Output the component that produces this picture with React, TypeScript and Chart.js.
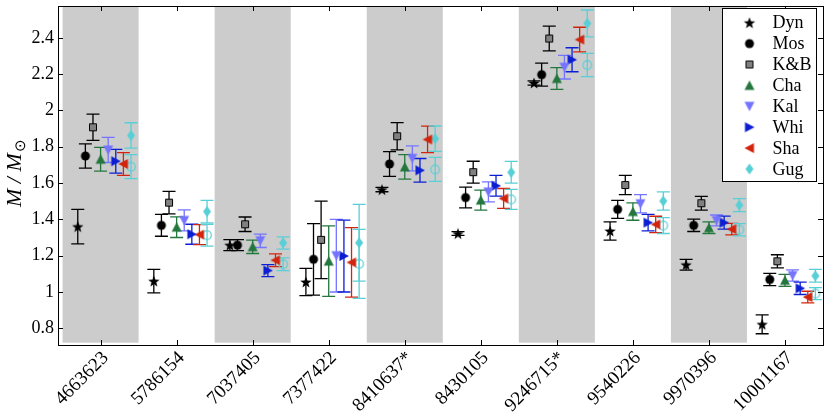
import { useEffect, useRef } from "react";
import { Chart, registerables } from "chart.js";

Chart.register(...registerables);

const SERIF = "'Liberation Serif', 'Times New Roman', serif";

const stars = ["4663623", "5786154", "7037405", "7377422", "8410637*", "8430105", "9246715*", "9540226", "9970396", "10001167"];
const seriesNames = ["Dyn", "Mos", "K&B", "Cha", "Kal", "Whi", "Sha", "Gug", ""];
const offsets = [-0.3, -0.2, -0.1, 0, 0.1, 0.2, 0.3, 0.4, 0.4];

const dyn = [1.36, 1.06, 1.258, 1.055, 1.564, 1.322, 2.151, 1.336, 1.15, 0.822];
const dynErr = [0.095, 0.065, 0.03, 0.075, 0.012, 0.01, 0.012, 0.05, 0.03, 0.052];
const mos = [1.749, 1.367, 1.258, 1.18, 1.705, 1.52, 2.197, 1.455, 1.367, 1.069];
const mosErr = [0.067, 0.06, 0.03, 0.197, 0.068, 0.057, 0.063, 0.05, 0.034, 0.034];
const kb = [1.907, 1.492, 1.373, 1.287, 1.858, 1.66, 2.396, 1.589, 1.489, 1.169];
const kbErr = [0.072, 0.062, 0.04, 0.213, 0.075, 0.06, 0.068, 0.053, 0.038, 0.036];
const cha = [1.731, 1.357, 1.249, 1.17, 1.689, 1.506, 2.176, 1.443, 1.354, 1.064];
const chaErr = [0.065, 0.057, 0.037, 0.194, 0.067, 0.055, 0.06, 0.048, 0.032, 0.033];
const kal = [1.782, 1.394, 1.282, 1.2, 1.736, 1.551, 2.238, 1.486, 1.394, 1.091];
const kalErr = [0.069, 0.058, 0.037, 0.2, 0.069, 0.055, 0.065, 0.05, 0.03, 0.031];
const whi = [1.72, 1.318, 1.118, 1.198, 1.67, 1.585, 2.279, 1.382, 1.382, 1.02];
const whiErr = [0.065, 0.055, 0.033, 0.198, 0.065, 0.057, 0.066, 0.045, 0.036, 0.034];
const sha = [1.705, 1.316, 1.175, 1.163, 1.84, 1.515, 2.39, 1.372, 1.346, 0.972];
const shaErr = [0.063, 0.055, 0.035, 0.191, 0.073, 0.055, 0.068, 0.045, 0.032, 0.032];
const gug = [1.862, 1.443, 1.27, 1.271, 1.844, 1.659, 2.479, 1.501, 1.478, 1.089];
const gugErr = [0.07, 0.062, 0.034, 0.211, 0.07, 0.06, 0.074, 0.05, 0.036, 0.035];
const gugOpen = [1.69, 1.313, 1.153, 1.155, 1.675, 1.51, 2.25, 1.366, 1.343, 0.991];
const gugOpenErr = [0.066, 0.06, 0.035, 0.19, 0.066, 0.055, 0.064, 0.044, 0.034, 0.033];

const yTicks = [0.8, 1, 1.2, 1.4, 1.6, 1.8, 2, 2.2, 2.4];
const yTickLabels = ["0.8", "1", "1.2", "1.4", "1.6", "1.8", "2", "2.2", "2.4"];
const yTitleMain = "M / M";
const yTitleSub = "\u2299";

const GREEN = "#23763c";
const KAL = "#7474ff";
const WHI = "#0c1ed2";
const SHA = "#d2240c";
const GUG = "#58cfd6";

const seriesValues = [dyn, mos, kb, cha, kal, whi, sha, gug, gugOpen];
const seriesErrs = [dynErr, mosErr, kbErr, chaErr, kalErr, whiErr, shaErr, gugErr, gugOpenErr];
const shapes = ["star", "circle", "square", "up", "down", "right", "left", "diamond", "ring"];
const fills = ["#000", "#000", "#808080", GREEN, KAL, WHI, SHA, GUG, GUG];
const errColors = ["#000", "#000", "#000", GREEN, KAL, WHI, SHA, GUG, GUG];

function makeMarker(shape: string, fill: string): HTMLCanvasElement {
  const c = document.createElement("canvas");
  c.width = 16;
  c.height = 16;
  const g = c.getContext("2d")!;
  g.translate(8, 8);
  g.fillStyle = fill;
  g.beginPath();
  const poly = (pts: number[][]) => {
    pts.forEach(([px, py], i) => (i ? g.lineTo(px, py) : g.moveTo(px, py)));
    g.closePath();
  };
  if (shape === "star") {
    const pts: number[][] = [];
    for (let k = 0; k < 10; k++) {
      const a = -Math.PI / 2 + (k * Math.PI) / 5;
      const r = k % 2 ? 2.5 : 6;
      pts.push([Math.cos(a) * r, Math.sin(a) * r + 0.6]);
    }
    poly(pts);
    g.fill();
  } else if (shape === "circle") {
    g.arc(0, 0, 4.5, 0, Math.PI * 2);
    g.fill();
  } else if (shape === "square") {
    g.rect(-3.5, -3.5, 7, 7);
    g.fill();
    g.strokeStyle = "#000";
    g.lineWidth = 1;
    g.stroke();
  } else if (shape === "up") {
    poly([[0, -5], [5, 4.5], [-5, 4.5]]);
    g.fill();
  } else if (shape === "down") {
    poly([[0, 5], [5, -4.5], [-5, -4.5]]);
    g.fill();
  } else if (shape === "right") {
    poly([[5, 0], [-4.5, -5], [-4.5, 5]]);
    g.fill();
  } else if (shape === "left") {
    poly([[-5, 0], [4.5, -5], [4.5, 5]]);
    g.fill();
  } else if (shape === "diamond") {
    poly([[0, -5.5], [4, 0], [0, 5.5], [-4, 0]]);
    g.fill();
  } else {
    g.arc(0, 0, 4.3, 0, Math.PI * 2);
    g.strokeStyle = fill;
    g.lineWidth = 1.2;
    g.stroke();
  }
  return c;
}

export default function App() {
  const chartRef = useRef<HTMLCanvasElement>(null);

  useEffect(() => {
    if (!chartRef.current) return;
    const markers = shapes.map((s, k) => makeMarker(s, fills[k]));

    const datasets = seriesValues.map((vals, k) => ({
      label: seriesNames[k],
      data: vals.map((v, i) => ({ x: i + offsets[k], y: v })),
      pointStyle: markers[k],
      pointRadius: 5,
      pointHoverRadius: 5,
      showLine: false,
    }));

    // grey bands behind every other star
    const bands = {
      id: "bands",
      beforeDatasetsDraw(chart: any) {
        const { ctx, scales, chartArea } = chart;
        ctx.save();
        ctx.fillStyle = "#cccccc";
        stars.forEach((_, i) => {
          if (i % 2) return;
          const x0 = scales.x.getPixelForValue(i - 0.5);
          const x1 = scales.x.getPixelForValue(i + 0.5);
          const yb = scales.y.getPixelForValue(0.721);
          ctx.fillRect(x0, chartArea.top + 1, x1 - x0, yb - chartArea.top - 1);
        });
        ctx.restore();
      },
    };

    const errorBars = {
      id: "errorBars",
      beforeDatasetsDraw(chart: any) {
        const { ctx, scales } = chart;
        ctx.save();
        ctx.lineWidth = 1.3;
        seriesValues.forEach((vals, k) => {
          ctx.strokeStyle = errColors[k];
          vals.forEach((v, i) => {
            const px = scales.x.getPixelForValue(i + offsets[k]);
            const t = scales.y.getPixelForValue(v + seriesErrs[k][i]);
            const b = scales.y.getPixelForValue(v - seriesErrs[k][i]);
            ctx.beginPath();
            ctx.moveTo(px, t);
            ctx.lineTo(px, b);
            ctx.moveTo(px - 6.5, t);
            ctx.lineTo(px + 6.5, t);
            ctx.moveTo(px - 6.5, b);
            ctx.lineTo(px + 6.5, b);
            ctx.stroke();
          });
        });
        ctx.restore();
      },
    };

    const frame = {
      id: "frame",
      afterDraw(chart: any) {
        const { ctx, scales, chartArea: a } = chart;
        ctx.save();
        ctx.strokeStyle = "#000";
        ctx.lineWidth = 1;
        ctx.beginPath();
        yTicks.forEach((v) => {
          const py = Math.round(scales.y.getPixelForValue(v)) + 0.5;
          ctx.moveTo(a.left, py);
          ctx.lineTo(a.left + 5, py);
          ctx.moveTo(a.right, py);
          ctx.lineTo(a.right - 5, py);
        });
        stars.forEach((_, i) => {
          const px = Math.round(scales.x.getPixelForValue(i)) + 0.5;
          ctx.moveTo(px, a.bottom);
          ctx.lineTo(px, a.bottom - 5);
          ctx.moveTo(px, a.top);
          ctx.lineTo(px, a.top + 5);
        });
        ctx.stroke();
        ctx.strokeRect(Math.round(a.left) + 0.5, Math.round(a.top) + 0.5, Math.round(a.right - a.left), Math.round(a.bottom - a.top));

        // legend box
        const lx = 722.5, ly = 8.5, lw = 94, lh = 173;
        ctx.fillStyle = "#fff";
        ctx.fillRect(lx, ly, lw, lh);
        ctx.strokeRect(lx, ly, lw, lh);
        ctx.fillStyle = "#000";
        ctx.font = `18px ${SERIF}`;
        ctx.textBaseline = "middle";
        ctx.textAlign = "left";
        seriesNames.slice(0, 8).forEach((name, k) => {
          const cy = 22.7 + k * 20.9;
          ctx.drawImage(markers[k], 749.5 - 8, cy - 8);
          ctx.fillText(name, 772.5, cy + 1);
        });

        // y title with subscript
        ctx.translate(20.5, 207);
        ctx.rotate(-Math.PI / 2);
        ctx.textBaseline = "alphabetic";
        ctx.font = `italic 22px ${SERIF}`;
        ctx.fillText(yTitleMain, 0, 0);
        const w = ctx.measureText(yTitleMain).width;
        ctx.font = `15px ${SERIF}`;
        ctx.fillText(yTitleSub, w + 1, 4);
        ctx.restore();
      },
    };

    const chart = new Chart(chartRef.current, {
      type: "scatter",
      data: { datasets: datasets as any },
      options: {
        responsive: true,
        maintainAspectRatio: false,
        animation: false,
        layout: { padding: { top: 3, right: 7, left: 0, bottom: 0 } },
        plugins: {
          legend: { display: false },
          tooltip: { enabled: false },
        },
        scales: {
          x: {
            type: "linear",
            min: -0.56,
            max: 9.5,
            grid: { display: false, drawTicks: false },
            border: { display: false },
            afterBuildTicks: (axis: any) => {
              axis.ticks = stars.map((_, i) => ({ value: i }));
            },
            afterFit: (axis: any) => {
              axis.height = 71;
              axis.paddingLeft = 0;
              axis.paddingRight = 0;
            },
            ticks: {
              autoSkip: false,
              maxRotation: 45,
              minRotation: 45,
              padding: 2,
              labelOffset: 5,
              color: "#000",
              font: { family: SERIF, size: 19 },
              callback: (_v: any, i: number) => stars[i],
            },
          },
          y: {
            min: 0.708,
            max: 2.575,
            grid: { display: false, drawTicks: false },
            border: { display: false },
            afterBuildTicks: (axis: any) => {
              axis.ticks = yTicks.map((v) => ({ value: v }));
            },
            afterFit: (axis: any) => {
              axis.width = 58;
              axis.paddingTop = 0;
              axis.paddingBottom = 0;
            },
            ticks: {
              padding: 4,
              color: "#000",
              font: { family: SERIF, size: 18 },
              callback: (_v: any, i: number) => yTickLabels[i],
            },
          },
        },
      },
      plugins: [bands, errorBars, frame],
    });

    return () => chart.destroy();
  }, []);

  return (
    <div style={{ position: "fixed", left: 0, top: 0, width: 830, height: 416, background: "#fff" }}>
      <canvas ref={chartRef} />
    </div>
  );
}
